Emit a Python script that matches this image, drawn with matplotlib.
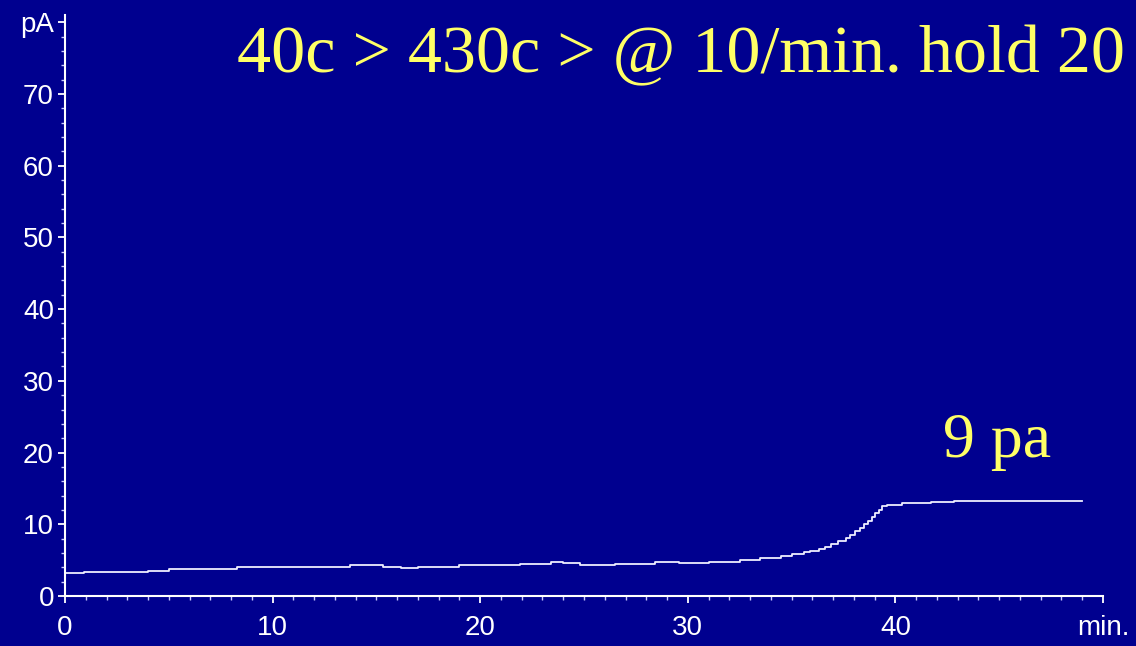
import matplotlib.pyplot as plt
from matplotlib.ticker import MultipleLocator

# trace (minutes, pA)
time_min = [0.0, 0.9, 2.0, 4.0, 5.0, 8.0, 8.3, 11.3, 13.75, 15.3, 16.2, 17.0,
            19.0, 21.0, 21.9, 23.4, 24.0, 24.8, 26.5, 28.4, 29.6, 31.0, 32.5,
            33.5, 34.5, 35.0, 35.6, 35.9, 36.3, 36.6, 36.9, 37.25, 37.6, 37.8,
            38.05, 38.3, 38.5, 38.7, 38.85, 39.0, 39.2, 39.35, 39.6, 40.3,
            41.7, 42.8, 49.0]
signal_pa = [3.2, 3.3, 3.4, 3.55, 3.7, 3.8, 4.0, 4.05, 4.3, 4.05, 3.85, 4.05,
             4.3, 4.35, 4.5, 4.7, 4.55, 4.3, 4.5, 4.7, 4.55, 4.75, 5.0,
             5.25, 5.55, 5.85, 6.1, 6.3, 6.6, 6.85, 7.2, 7.7, 8.1, 8.5,
             9.1, 9.5, 10.0, 10.5, 11.05, 11.6, 12.05, 12.5, 12.7, 12.95,
             13.1, 13.2, 13.3]

y_ticks = [0, 10, 20, 30, 40, 50, 60, 70, 80]
y_labels = ['0', '10', '20', '30', '40', '50', '60', '70', 'pA']
x_ticks = [0, 10, 20, 30, 40, 50]
x_labels = ['0', '10', '20', '30', '40', 'min.']

title_text = '40c > 430c > @ 10/min. hold 20'
note_text = '9 pa'

bg = '#00008F'
yellow = '#FFFF66'

fig = plt.figure(figsize=(11.36, 6.46), dpi=100, facecolor=bg)
ax = fig.add_axes([65 / 1136, 50 / 646, 1038 / 1136, 581 / 646])
ax.set_facecolor(bg)

ax.plot(time_min, signal_pa, color='#EEEEFF', linewidth=1.3, drawstyle='steps-post')

ax.set_xlim(0, 50)
ax.set_ylim(0, 81)

for s in ['top', 'right']:
    ax.spines[s].set_visible(False)
for s in ['left', 'bottom']:
    ax.spines[s].set_color('white')
    ax.spines[s].set_linewidth(1.5)

ax.set_yticks(y_ticks)
ax.set_yticklabels(y_labels)
ax.set_xticks(x_ticks)
ax.set_xticklabels(x_labels)
ax.yaxis.set_minor_locator(MultipleLocator(2))
ax.xaxis.set_minor_locator(MultipleLocator(1))

ax.tick_params(axis='both', which='major', colors='white', labelsize=20,
               length=5, width=1.3)
ax.tick_params(axis='both', which='minor', colors='#C8C8FF', length=3, width=1.0)
ax.tick_params(axis='y', which='major', pad=3)
ax.tick_params(axis='x', which='major', pad=8.5)
for lab in ax.get_xticklabels() + ax.get_yticklabels():
    lab.set_family(['Liberation Sans', 'DejaVu Sans'])

fig.text(1125 / 1136, 1 - 72 / 646, title_text, ha='right', va='baseline',
         color=yellow, fontsize=49, family=['Liberation Serif', 'DejaVu Serif'])
ax.text(44.9, 19.4, note_text, ha='center', va='baseline',
        color=yellow, fontsize=46, family=['Liberation Serif', 'DejaVu Serif'])

fig.savefig('out.png', dpi=100, facecolor=bg)
